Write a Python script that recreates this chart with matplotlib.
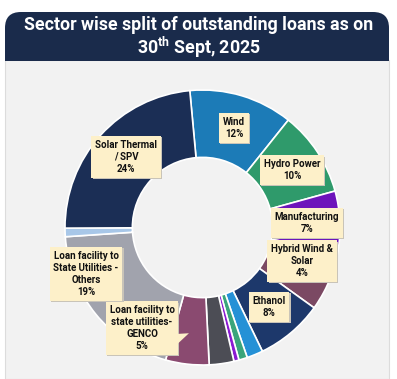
import matplotlib
matplotlib.use("Agg")
import matplotlib.pyplot as plt
from matplotlib.patches import FancyBboxPatch, Rectangle
from matplotlib.transforms import offset_copy

plt.rcParams['font.family'] = ['Roboto', 'DejaVu Sans']
plt.rcParams['mathtext.fontset'] = 'custom'
plt.rcParams['mathtext.rm'] = 'Roboto:bold'

# sector shares (%), clockwise from the top
sectors = ["Wind", "Hydro Power", "Manufacturing", "Other sector 1",
           "Hybrid Wind & Solar", "Ethanol", "Other sector 2", "Other sector 3",
           "Other sector 4", "Other sector 5", "Loan facility to state utilities-GENCO",
           "Loan facility to State Utilities - Others", "Other sector 6",
           "Solar Thermal / SPV"]
shares = [12.2, 10.0, 7.0, 3.0, 4.2, 7.9, 1.9, 1.0, 0.6, 2.9, 5.1, 19.6, 1.0, 23.6]
colors = ["#1c7bb7", "#2f9a6b", "#6d14bb", "#3e3f46", "#7b4963", "#1d386b",
          "#2591d6", "#3aa57b", "#8a1ad2", "#4c4d55", "#8a4a70", "#a1a3ad",
          "#a8c7e8", "#1b2e55"]

# labels shown on the chart
label_texts = ["Wind\n12%", "Hydro Power\n10%", "Manufacturing\n7%",
               "Hybrid Wind &\nSolar\n4%", "Ethanol\n8%",
               "Loan facility to\nstate utilities-\nGENCO\n5%",
               "Loan facility to\nState Utilities -\nOthers\n19%",
               "Solar Thermal\n/ SPV\n24%"]
label_pos = [(0.229, 0.724), (0.651, 0.418), (0.760, 0.033), (0.724, -0.244),
             (0.484, -0.578), (-0.44, -0.731), (-0.847, -0.338), (-0.556, 0.513)]

title = "Sector wise split of outstanding loans as on\n" + r"30$^{\rm th}$ Sept, 2025"

W, H = 397, 379
fig = plt.figure(figsize=(W / 100, H / 100), dpi=100)
fig.patch.set_facecolor("white")

# grey panel + navy title banner
panel = Rectangle((5 / W, 0), 384 / W, (H - 60) / H, transform=fig.transFigure,
                  facecolor="#f2f2f2", edgecolor="#dcdcdc", lw=0.8, zorder=-5)
fig.patches.append(panel)
banner = FancyBboxPatch((5 / W, (H - 61) / H), 384 / W, 49 / H,
                        boxstyle="round,pad=0,rounding_size=0.04",
                        transform=fig.transFigure, facecolor="#1a2b4b",
                        edgecolor="none", mutation_aspect=W / H, zorder=-4)
fig.patches.append(banner)
fig.patches.append(Rectangle((5 / W, (H - 61) / H), 384 / W, 20 / H,
                             transform=fig.transFigure, facecolor="#1a2b4b",
                             edgecolor="none", zorder=-4))
fig.text(0.5, (H - 38) / H, title, color="white", fontsize=12.8,
         fontweight="bold", ha="center", va="center", linespacing=1.05)

R = 137.5
cx, cy = 202.5, 227.5
ax = fig.add_axes([(cx - R) / W, (H - cy - R) / H, 2 * R / W, 2 * R / H])
ax.set_zorder(2)
ax.patch.set_visible(False)
ax.pie(shares, colors=colors, startangle=95.3, counterclock=False, radius=1,
       wedgeprops=dict(width=0.49, edgecolor="white", linewidth=1.2))
ax.set_xlim(-1, 1)
ax.set_ylim(-1, 1)
ax.set_aspect("equal")
ax.axis("off")

shadow_tr = offset_copy(ax.transData, fig=fig, x=1.2, y=-1.2, units="dots")
for txt, (x, y) in zip(label_texts, label_pos):
    ax.text(x, y, txt, transform=shadow_tr, ha="center", va="center",
            fontsize=7, fontweight="bold", color="none", linespacing=1.25,
            bbox=dict(boxstyle="square,pad=0.38", fc="#c9c4b8", ec="none"))
    ax.text(x, y, txt, ha="center", va="center", fontsize=7,
            fontweight="bold", color="#111111", linespacing=1.25,
            bbox=dict(boxstyle="square,pad=0.38", fc="#fdf0c9", ec="none"))
    if "GENCO" in txt:
        # small callout tip on the right edge of the GENCO box
        ax.annotate("", xy=(x + 0.36, y - 0.03), xytext=(x + 0.22, y - 0.09),
                    arrowprops=dict(arrowstyle="wedge,tail_width=0.8,shrink_factor=0.5",
                                    fc="#fdf0c9", ec="none"), zorder=4)

fig.savefig("out.png", dpi=100)
